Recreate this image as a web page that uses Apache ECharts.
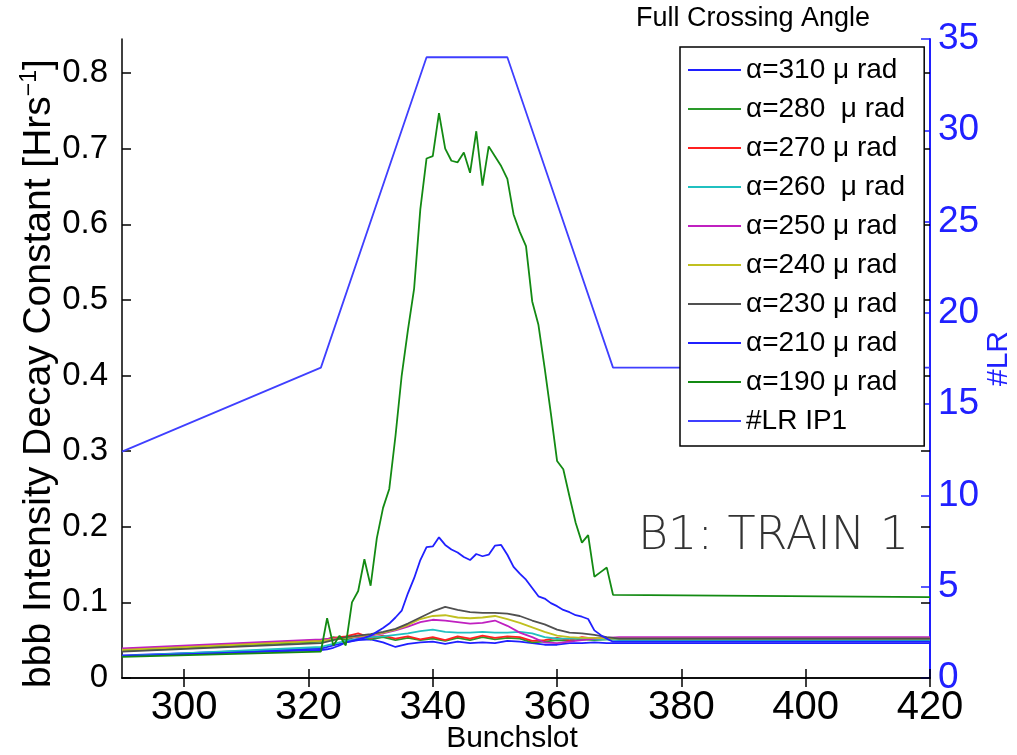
<!DOCTYPE html>
<html>
<head>
<meta charset="utf-8">
<script src="https://cdn.jsdelivr.net/npm/echarts@6/dist/echarts.min.js"></script>
<style>
  html, body { margin: 0; padding: 0; background: #fff; }
  #chart { width: 1017px; height: 755px; }
</style>
</head>
<body>
<div id="chart"></div>
<script>
// bunch slots: fine grid for the two big curves, coarse grid for the rest
const slotsFine = [290, 322, 323, 324, 325, 326, 327, 328, 329, 330, 331, 332, 333, 334, 335, 336, 337, 338, 339, 340,
  341, 342, 343, 344, 345, 346, 347, 348, 349, 350, 351, 352, 353, 354, 355, 356, 357, 358, 359, 360,
  361, 362, 363, 364, 365, 366, 367, 368, 369, 420];
const slotsCoarse = [290, 322, 324, 326, 328, 330, 332, 334, 336, 338, 340, 342, 344, 346, 348, 350, 352, 354,
  356, 358, 360, 362, 364, 366, 368, 370, 420];

const alpha190 = [0.028, 0.035, 0.079, 0.043, 0.056, 0.043, 0.100, 0.115, 0.157, 0.122, 0.185, 0.225, 0.250, 0.320,
  0.400, 0.460, 0.515, 0.620, 0.687, 0.690, 0.747, 0.700, 0.684, 0.682, 0.695, 0.668, 0.723, 0.651, 0.703, 0.690,
  0.677, 0.660, 0.613, 0.590, 0.571, 0.498, 0.467, 0.410, 0.350, 0.287, 0.276, 0.240, 0.205, 0.179, 0.189, 0.134,
  0.140, 0.146, 0.110, 0.107];
const alpha210 = [0.029, 0.037, 0.038, 0.040, 0.043, 0.047, 0.049, 0.051, 0.053, 0.056, 0.061, 0.066, 0.072, 0.080,
  0.089, 0.112, 0.132, 0.156, 0.173, 0.174, 0.186, 0.176, 0.170, 0.166, 0.160, 0.156, 0.164, 0.161, 0.163, 0.175,
  0.176, 0.163, 0.147, 0.138, 0.130, 0.119, 0.108, 0.105, 0.099, 0.095, 0.090, 0.087, 0.083, 0.081, 0.078, 0.063,
  0.057, 0.052, 0.048, 0.048];

const alpha230 = [0.035, 0.046, 0.050, 0.054, 0.056, 0.058, 0.061, 0.065, 0.072, 0.080, 0.088, 0.094, 0.090, 0.087,
  0.086, 0.086, 0.085, 0.082, 0.076, 0.071, 0.064, 0.060, 0.059, 0.057, 0.054, 0.052, 0.052];
const alpha240 = [0.037, 0.049, 0.051, 0.053, 0.055, 0.057, 0.060, 0.064, 0.070, 0.078, 0.082, 0.083, 0.080, 0.079,
  0.080, 0.082, 0.078, 0.073, 0.067, 0.061, 0.056, 0.054, 0.053, 0.053, 0.052, 0.052, 0.052];
const alpha250 = [0.039, 0.051, 0.052, 0.053, 0.054, 0.056, 0.059, 0.063, 0.068, 0.074, 0.077, 0.076, 0.074, 0.072,
  0.073, 0.076, 0.069, 0.060, 0.054, 0.047, 0.046, 0.048, 0.050, 0.052, 0.053, 0.054, 0.054];
const alpha260 = [0.029, 0.041, 0.045, 0.049, 0.052, 0.054, 0.055, 0.057, 0.059, 0.062, 0.064, 0.061, 0.060, 0.060,
  0.061, 0.060, 0.060, 0.061, 0.059, 0.054, 0.052, 0.052, 0.052, 0.051, 0.051, 0.050, 0.050];
const alpha270 = [0.038, 0.050, 0.053, 0.055, 0.059, 0.053, 0.056, 0.052, 0.055, 0.051, 0.054, 0.050, 0.055, 0.052,
  0.056, 0.053, 0.055, 0.054, 0.049, 0.050, 0.053, 0.050, 0.054, 0.052, 0.053, 0.053, 0.053];
const alpha280 = [0.036, 0.048, 0.054, 0.050, 0.056, 0.051, 0.054, 0.050, 0.053, 0.050, 0.052, 0.049, 0.053, 0.050,
  0.054, 0.051, 0.053, 0.052, 0.047, 0.048, 0.050, 0.049, 0.051, 0.050, 0.051, 0.051, 0.051];
const alpha310 = [0.030, 0.039, 0.043, 0.047, 0.050, 0.051, 0.047, 0.041, 0.045, 0.047, 0.048, 0.045, 0.048, 0.046,
  0.047, 0.046, 0.049, 0.048, 0.046, 0.044, 0.044, 0.046, 0.046, 0.047, 0.046, 0.046, 0.046];

// number of long-range encounters at IP1 (right axis)
const lrSlots = [290, 322, 339, 352, 369, 420];
const lrValues = [12.4, 17, 34, 34, 17, 17];

const xTicks = [300, 320, 340, 360, 380, 400, 420];
const leftTicks = [0, 0.1, 0.2, 0.3, 0.4, 0.5, 0.6, 0.7, 0.8];

const FONT = "Liberation Sans";
const BLUE = "#2020ff";

const pair = (xs, ys) => xs.map((x, i) => [x, ys[i]]);

const line = (name, xs, ys, color, yAxisIndex = 0) => ({
  name,
  type: "line",
  yAxisIndex,
  data: pair(xs, ys),
  symbol: "none",
  lineStyle: { color, width: 1.8 },
  itemStyle: { color },
});

const chart = echarts.init(document.getElementById("chart"));

const options = {
  animation: false,
  grid: { left: 122, right: 87, top: 39, bottom: 77, outerBoundsMode: "none" },
  xAxis: [
    {
      type: "value",
      min: 290,
      max: 420,
      name: "Bunchslot",
      nameLocation: "middle",
      nameGap: 46,
      nameMoveOverlap: false,
      nameTextStyle: { fontFamily: FONT, fontSize: 30, color: "#000", padding: [0, 28, 0, 0] },
      axisLine: { lineStyle: { color: "#000", width: 1.5 } },
      axisTick: { inside: true, length: 9, customValues: xTicks, lineStyle: { color: "#000", width: 1.5 } },
      axisLabel: { customValues: xTicks, fontFamily: FONT, fontSize: 40, color: "#000", margin: 10 },
      splitLine: { show: false },
    },
    {
      // mirrored top border with ticks
      type: "value",
      position: "top",
      min: 290,
      max: 420,
      axisLine: { lineStyle: { color: "#000", width: 1.5 } },
      axisTick: { inside: true, length: 9, customValues: xTicks, lineStyle: { color: "#000", width: 1.5 } },
      axisLabel: { show: false },
      splitLine: { show: false },
    },
  ],
  yAxis: [
    {
      type: "value",
      min: 0,
      max: 0.845,
      name: "bbb Intensity Decay Constant [Hrs{sup|−1}]",
      nameLocation: "middle",
      nameGap: 62,
      nameMoveOverlap: false,
      nameTextStyle: {
        fontFamily: FONT,
        fontSize: 39,
        color: "#000",
        padding: [0, 30, 0, 0],
        rich: { sup: { fontFamily: FONT, fontSize: 23, color: "#000", padding: [0, 0, 19, 0] } },
      },
      axisLine: { lineStyle: { color: "#000", width: 1.5 } },
      axisTick: { inside: true, length: 9, customValues: leftTicks, lineStyle: { color: "#000", width: 1.5 } },
      axisLabel: { customValues: leftTicks, fontFamily: FONT, fontSize: 33, color: "#000", margin: 14 },
      splitLine: { show: false },
    },
    {
      type: "value",
      position: "right",
      min: 0,
      max: 35,
      interval: 5,
      name: "#LR",
      nameLocation: "middle",
      nameRotate: 90,
      nameGap: 54,
      nameMoveOverlap: false,
      nameTextStyle: { fontFamily: FONT, fontSize: 30, color: BLUE },
      axisLine: { lineStyle: { color: BLUE, width: 2 } },
      axisTick: { inside: true, length: 9, lineStyle: { color: BLUE, width: 1.5 } },
      axisLabel: { fontFamily: FONT, fontSize: 37, color: BLUE, margin: 8 },
      splitLine: { show: false },
    },
    {
      // mirrored left-axis ticks on the right border
      type: "value",
      position: "right",
      min: 0,
      max: 0.845,
      axisLine: { show: false },
      axisTick: { show: true, inside: true, length: 9, customValues: leftTicks, lineStyle: { color: "#000", width: 1.5 } },
      axisLabel: { show: false },
      splitLine: { show: false },
    },
  ],
  legend: {
    orient: "vertical",
    left: 680,
    top: 47,
    padding: [9, 19, 11, 8],
    backgroundColor: "#fff",
    borderColor: "#000",
    borderWidth: 1.5,
    borderRadius: 0,
    icon: "rect",
    itemWidth: 53,
    itemHeight: 2,
    itemGap: 11,
    textStyle: { fontFamily: FONT, fontSize: 28, color: "#000" },
    data: ["α=310 μ rad", "α=280  μ rad", "α=270 μ rad", "α=260  μ rad", "α=250 μ rad",
      "α=240 μ rad", "α=230 μ rad", "α=210 μ rad", "α=190 μ rad", "#LR IP1"],
  },
  graphic: [
    {
      type: "text",
      left: 636,
      top: 5,
      style: { text: "Full Crossing Angle", fontFamily: FONT, fontSize: 27, fill: "#000" },
    },
    {
      type: "text",
      left: 638,
      top: 514,
      style: { text: "B1: TRAIN 1", fontFamily: "DejaVu Sans", fontWeight: 200, fontSize: 46, fill: "#333" },
    },
  ],
  series: [
    line("α=310 μ rad", slotsCoarse, alpha310, "#1f1fff"),
    line("α=280  μ rad", slotsCoarse, alpha280, "#2a9a2a"),
    line("α=270 μ rad", slotsCoarse, alpha270, "#ff2020"),
    line("α=260  μ rad", slotsCoarse, alpha260, "#20c0c0"),
    line("α=250 μ rad", slotsCoarse, alpha250, "#c020c0"),
    line("α=240 μ rad", slotsCoarse, alpha240, "#c0c020"),
    line("α=230 μ rad", slotsCoarse, alpha230, "#505050"),
    line("α=210 μ rad", slotsFine, alpha210, BLUE),
    line("α=190 μ rad", slotsFine, alpha190, "#138a13"),
    line("#LR IP1", lrSlots, lrValues, "#3f3fff", 1),
  ],
};

chart.setOption(options);
</script>
</body>
</html>
